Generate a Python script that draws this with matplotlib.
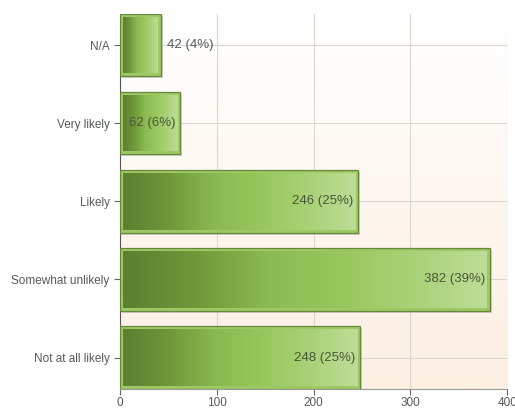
import numpy as np
import matplotlib.pyplot as plt
from matplotlib.colors import LinearSegmentedColormap
from matplotlib.patches import Rectangle

# --------------------------------------------------------------------------------------------------
# DATA:
categories = ["N/A", "Very likely", "Likely", "Somewhat unlikely", "Not at all likely"]
counts = [42, 62, 246, 382, 248]
percents = [4, 6, 25, 39, 25]
x_ticks = [0, 100, 200, 300, 400]

# --------------------------------------------------------------------------------------------------
# STYLE:
TEXT_COLOR = "#555a5e"
BAR_HEIGHT = 0.8
plt.rcParams['font.family'] = ['Liberation Sans', 'DejaVu Sans']

bar_cmap = LinearSegmentedColormap.from_list(
    "bar", ["#5c7f31", "#709839", "#8bba52", "#98c75d", "#a9d277", "#bedc98"])
bg_cmap = LinearSegmentedColormap.from_list("bg", ["#ffffff", "#fdefe2"])

fig = plt.figure(figsize=(5.15, 4.08), dpi=100)
ax = fig.add_axes([0.233, 0.047, 0.752, 0.919])

n = len(categories)
ylo, yhi = -0.4, n - 0.6
ax.set_xlim(0, 400)
ax.set_ylim(yhi, ylo)

# background gradient (white at top, peach at bottom)
bg = np.linspace(0, 1, 256).reshape(-1, 1)
ax.imshow(bg, cmap=bg_cmap, aspect='auto', extent=[0, 400, yhi, ylo], zorder=0)

ax.grid(True, color="#dcd6d0", linewidth=0.8, zorder=1)
ax.set_axisbelow(True)

grad = np.linspace(0, 1, 256).reshape(1, -1)
px_x = 400 / 387.0   # data units per pixel in x
px_y = (yhi - ylo) / 375.0

for i, (c, p) in enumerate(zip(counts, percents)):
    y0 = i - BAR_HEIGHT / 2
    # shadow
    ax.add_patch(Rectangle((2 * px_x, y0 + 2 * px_y), c, BAR_HEIGHT,
                           facecolor="#b9b2a8", edgecolor="none", alpha=0.6, zorder=2))
    # outer frame
    ax.add_patch(Rectangle((0, y0), c, BAR_HEIGHT, facecolor="#9cc964",
                           edgecolor="#66873c", linewidth=0.9, zorder=3))
    # inner gradient
    ix0, iy0 = 3 * px_x, y0 + 3 * px_y
    iw, ih = c - 6 * px_x, BAR_HEIGHT - 6 * px_y
    im = ax.imshow(grad, cmap=bar_cmap, aspect='auto',
                   extent=[ix0, ix0 + iw, iy0 + ih, iy0], zorder=4)
    clip = Rectangle((ix0, iy0), iw, ih, transform=ax.transData)
    im.set_clip_path(clip)

    label = f"{c} ({p}%)"
    if c > 55:
        ax.text(c - 5 * px_x, i, label, ha='right', va='center',
                fontsize=9.5, color="#4a5638", zorder=5)
    else:
        ax.text(c + 6 * px_x, i, label, ha='left', va='center',
                fontsize=9.5, color=TEXT_COLOR, zorder=5)

ax.set_yticks(range(n))
ax.set_yticklabels(categories)
ax.set_xticks(x_ticks)
ax.tick_params(axis='both', colors="#666666", labelcolor=TEXT_COLOR, labelsize=8.5,
               length=4, width=0.8)
ax.tick_params(axis='x', pad=2)

for side in ["top", "right"]:
    ax.spines[side].set_visible(False)
ax.spines["left"].set_color("#555555")
ax.spines["bottom"].set_color("#999999")

fig.savefig("out.png", dpi=100)
